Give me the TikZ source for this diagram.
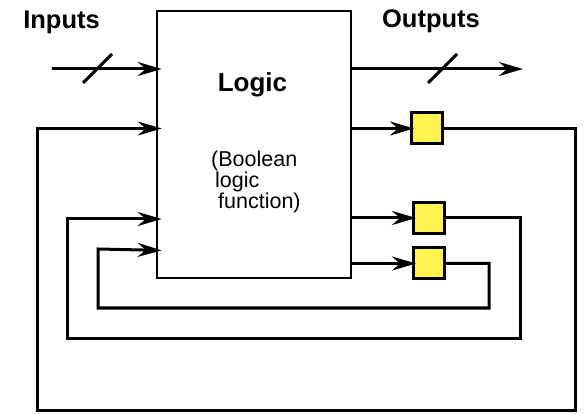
\documentclass[tikz,border=0pt]{standalone}
\usepackage{fontspec}
\setmainfont{Liberation Sans}
\usetikzlibrary{arrows.meta,calc}
\definecolor{ffyellow}{RGB}{255,242,80}
\tikzset{
  wire/.style={line width=3pt},
  arr/.style={wire,-{Stealth[length=24pt,width=14pt,inset=8pt]}},
  logicbox/.style={draw,line width=2.6pt,minimum width=194pt,minimum height=267pt,inner sep=0pt},
  ffbox/.style={draw,line width=3pt,fill=ffyellow,minimum size=31pt,inner sep=0pt},
  bigtext/.style={font=\bfseries\fontsize{25.5}{28}\selectfont,inner sep=0pt},
  smalltext/.style={font=\fontsize{21.5}{20.5}\selectfont,inner sep=0pt,anchor=base west}
}
\begin{document}
\begin{tikzpicture}[x=1pt,y=-1pt]
    \useasboundingbox (0,0) rectangle (584,414);

    % Logic block and flip-flops
    \node[logicbox] (logic) at (254,144.5) {};
    \node[ffbox] (ff1) at (427,128.5) {};
    \node[ffbox] (ff2) at (429,218) {};
    \node[ffbox] (ff3) at (429,263.5) {};

    % Labels
    \node[bigtext] (inputs) at (61.5,22) {Inputs};
    \node[bigtext] (outputs) at (431,21) {Outputs};
    \node[bigtext,font=\bfseries\fontsize{26}{28}\selectfont,anchor=base] (title) at (252.5,92) {Logic};
    \node[smalltext] (line1) at (211,167) {(Boolean};
    \node[smalltext] (line2) at (215,188) {logic};
    \node[smalltext] (line3) at (218,208.5) {function)};

    % Bus input and bus output
    \coordinate (inA) at (52,69);
    \coordinate (outA) at (523,69);
    \draw[arr,shorten >=-6pt] (inA) -- (logic.west |- inA);
    \draw[arr] (logic.east |- outA) -- (outA);
    \draw[wire] ($(inA)+(31,14)$) -- ++(29,-29);
    \draw[wire] ($(outA)+(-95,14)$) -- ++(29,-29);

    % Logic to flip-flops
    \draw[arr,shorten >=-4pt] (logic.east |- ff1) -- (ff1.west);
    \draw[arr,shorten >=-4pt] (logic.east |- ff2) -- (ff2.west);
    \draw[arr,shorten >=-4pt] (logic.east |- ff3) -- (ff3.west);

    % Feedback loops
    \coordinate (in1) at (logic.west |- ff1);
    \coordinate (in2) at ($(logic.west |- ff2)+(0,1)$);
    \coordinate (in3) at ($(logic.south west)+(0,-29)$);
    \draw[arr,shorten >=-6pt] (ff1.east) -| (575,410) -| (37,128.5) -- (in1);
    \draw[arr,shorten >=-6pt] (ff2.east) -| (520,338) -| (67.5,219) -- (in2);
    \draw[arr,shorten >=-6pt] (ff3.east) -| (489,308) -| (98,249) -- (in3);
\end{tikzpicture}
\end{document}
